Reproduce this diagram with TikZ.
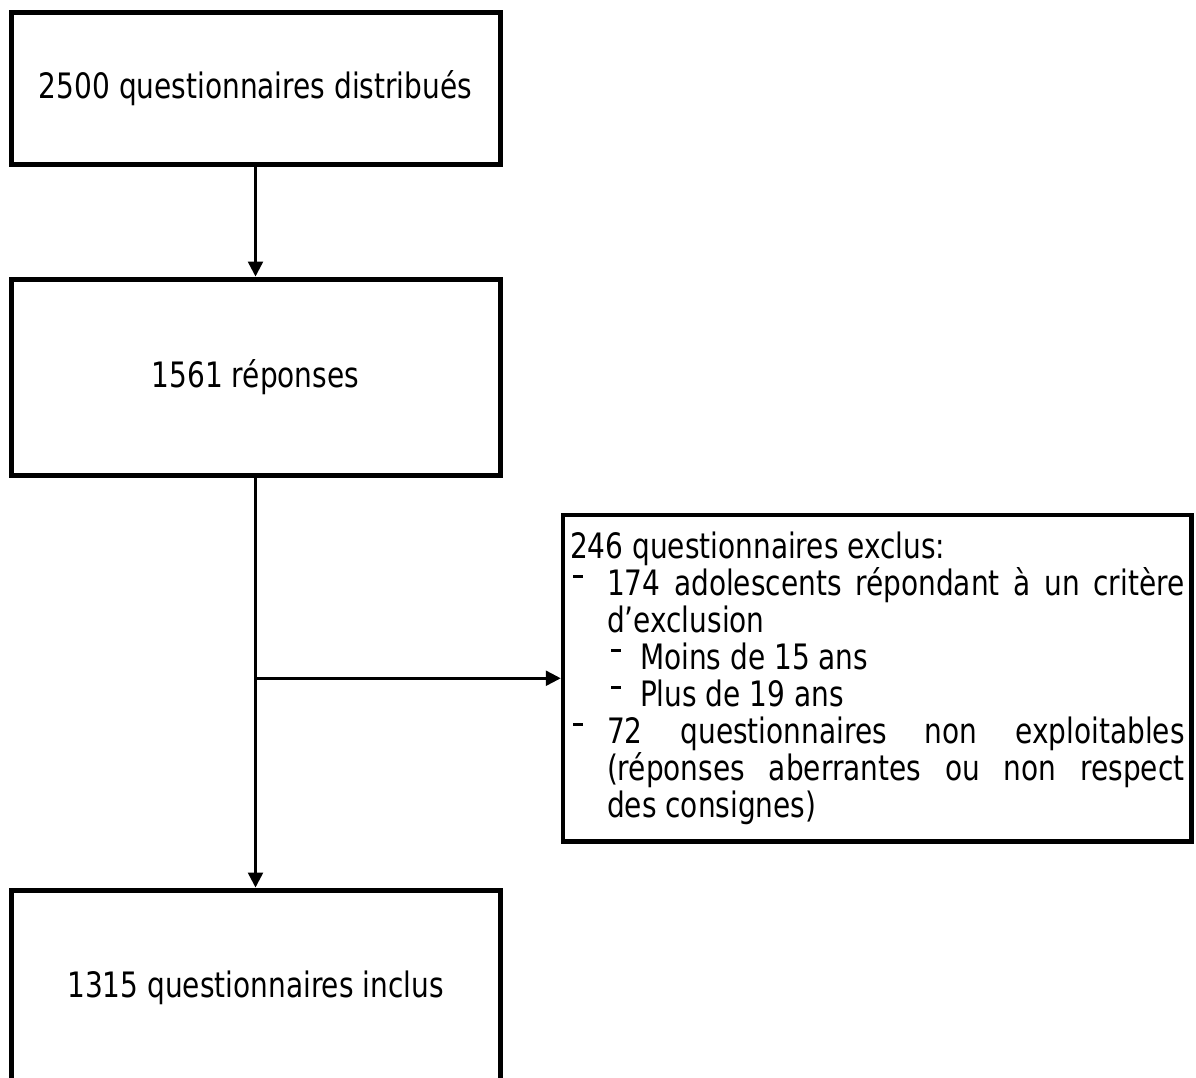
\documentclass[tikz,border=0pt]{standalone}
\usepackage{fontspec}
\setmainfont{DejaVu Sans}[FakeStretch=0.8]
\usepackage{tikz}
\usetikzlibrary{arrows.meta}
\usetikzlibrary{calc}

\tikzset{
  boite/.style={draw, line width=5pt, minimum width=489pt, minimum height=196pt,
    inner sep=0pt, font=\fontsize{35}{42}\selectfont},
  exclus/.style={draw, line width=4.5pt, minimum width=628.5pt, minimum height=326.5pt,
    inner xsep=7pt, inner ysep=0pt, text width=614.5pt, align=justify,
    font=\fontsize{35}{36.9}\selectfont},
  fleche/.style={->, line width=2.5pt}
}

% tiret des listes
\newcommand{\tiret}{\rule[0.5em]{0.28em}{0.08em}}
\newcommand{\puceun}{\par\hangindent=37pt\hangafter=1\noindent\makebox[37pt][l]{\hspace{3pt}\tiret}}
\newcommand{\pucedeux}{\par\hangindent=70pt\hangafter=1\noindent\hspace*{41pt}\makebox[29pt][l]{\tiret}}

\begin{document}
\begin{tikzpicture}[x=1pt, y=-1pt, >={Triangle[length=15pt,width=15pt]}]
  \useasboundingbox (0,0) rectangle (1196,1077);

  % boites principales
  \node[boite, minimum height=152.5pt] (distrib) at (255.5,88.25) {2500 questionnaires distribués};
  \node[boite] (rep) at (255.5,377) {1561 réponses};
  \node[boite] (incl) at (255.5,988) {1315 questionnaires inclus};

  % boite des exclusions
  \node[exclus] (excl) at (877.25,678.25) {%
    \hyphenpenalty=10000\exhyphenpenalty=10000\tolerance=9999
    \noindent 246 questionnaires exclus:
    \puceun 174 adolescents répondant à un critère d’exclusion
    \pucedeux Moins de 15 ans
    \pucedeux Plus de 19 ans
    \puceun 72 questionnaires non exploitables (réponses aberrantes ou non respect\linebreak des consignes)\par
  };

  % fleches
  \coordinate (branche) at (rep.south |- excl.west);
  \draw[fleche] (distrib.south) -- (rep.north);
  \draw[fleche] (rep.south) -- (incl.north);
  \draw[fleche] (branche) -- (excl.west);
\end{tikzpicture}
\end{document}
